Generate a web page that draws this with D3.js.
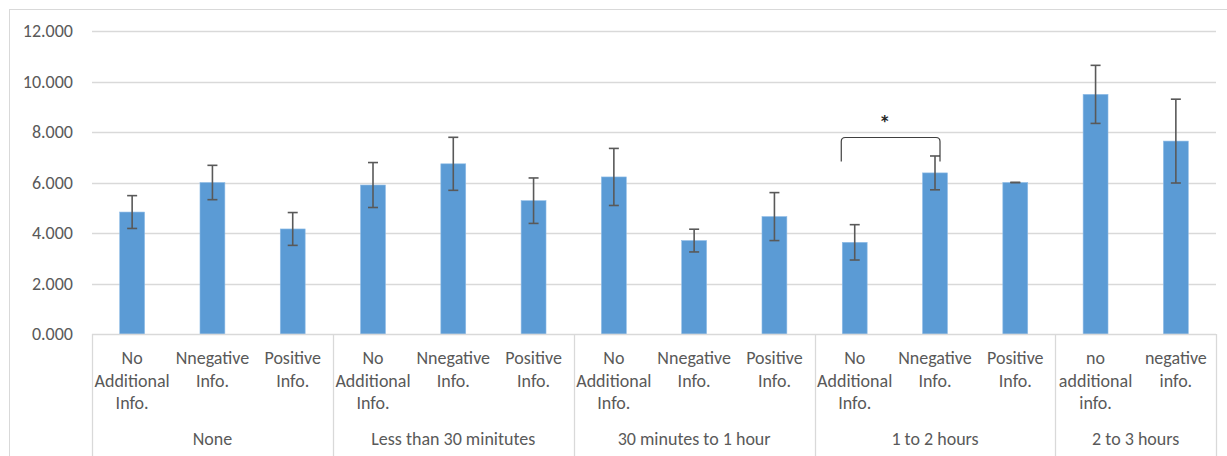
<!DOCTYPE html>
<html><head><meta charset="utf-8">
<script src="https://cdn.jsdelivr.net/npm/d3@7"></script>
<style>body{margin:0;background:#fff}svg{display:block}</style>
</head><body><svg id="c" width="1227" height="456"></svg>
<script>
const groups = ["None","Less than 30 minitutes","30 minutes to 1 hour","1 to 2 hours","2 to 3 hours"];
const groupCats = [
  ["No Additional Info.","Nnegative Info.","Positive Info."],
  ["No Additional Info.","Nnegative Info.","Positive Info."],
  ["No Additional Info.","Nnegative Info.","Positive Info."],
  ["No Additional Info.","Nnegative Info.","Positive Info."],
  ["no additional info.","negative info."]
];
const values = [4.83,6.00,4.16, 5.90,6.74,5.28, 6.22,3.70,4.65, 3.63,6.38,6.00, 9.49,7.64];
const errors = [0.65,0.68,0.65, 0.89,1.05,0.90, 1.13,0.45,0.95, 0.70,0.67,0.00, 1.15,1.66];
const yTicks = [0,2,4,6,8,10,12];
const sigPair = [9,10];
const sigLabel = "*";

const font = "Carlito, 'Open Sans', sans-serif";
const fs = "18px";
const txt = "#595959", grid = "#d9d9d9", barCol = "#5b9bd5";
const svg = d3.select("#c");
const L = 92, R = 1216, T = 31, B = 334;

svg.append("rect").attr("x",9.5).attr("y",9.5).attr("width",1240).attr("height",470)
  .attr("fill","none").attr("stroke",grid);

const items = [];
groupCats.forEach((cs,gi)=>cs.forEach((c,ci)=>items.push({g:gi,c:c,id:items.length})));
items.forEach((d,i)=>{d.v=values[i];d.e=errors[i];});

const x = d3.scaleBand().domain(items.map(d=>d.id)).range([L,R]).paddingInner(0.69).paddingOuter(0.345);
const y = d3.scaleLinear().domain([0,12]).range([B,T]);

// gridlines
svg.append("g").selectAll("line").data(yTicks.filter(t=>t>0)).join("line")
  .attr("x1",L).attr("x2",R).attr("y1",d=>Math.round(y(d))+0.5).attr("y2",d=>Math.round(y(d))+0.5)
  .attr("stroke",grid).attr("stroke-width",1.3);

// y axis labels
const yAxis = d3.axisLeft(y).tickValues(yTicks).tickFormat(d3.format(".3f")).tickSize(0).tickPadding(19);
const ya = svg.append("g").attr("transform",`translate(${L},0)`).call(yAxis);
ya.select(".domain").remove();
ya.selectAll("text").attr("fill",txt).style("font-family",font).style("font-size",fs);

// bars
svg.append("g").selectAll("rect").data(items).join("rect")
  .attr("x",d=>x(d.id)).attr("width",x.bandwidth())
  .attr("y",d=>y(d.v)).attr("height",d=>y(0)-y(d.v))
  .attr("fill",barCol).attr("stroke","#8fbce6").attr("stroke-width",0.6);

// error bars
const eb = svg.append("g").attr("stroke","#595959").attr("stroke-width",1.6);
items.forEach(d=>{
  const cx = x(d.id)+x.bandwidth()/2;
  eb.append("line").attr("x1",cx).attr("x2",cx).attr("y1",y(d.v+d.e)).attr("y2",y(d.v-d.e));
  [d.v+d.e,d.v-d.e].forEach(v=>eb.append("line").attr("x1",cx-5).attr("x2",cx+5).attr("y1",y(v)).attr("y2",y(v)));
});

// x axis line & group separators
const ax = svg.append("g").attr("stroke",grid).attr("stroke-width",1.3);
ax.append("line").attr("x1",L).attr("x2",R).attr("y1",B+0.5).attr("y2",B+0.5);
const bounds = [];
let k = 0;
groupCats.forEach((cs,gi)=>{bounds.push(k); k+=cs.length;});
bounds.push(k);
const step = x.step();
const bx = i => L + i*step;
bounds.forEach(b=>ax.append("line").attr("x1",Math.round(bx(b))+0.5).attr("x2",Math.round(bx(b))+0.5).attr("y1",B).attr("y2",456));

// category labels
const cl = svg.append("g").attr("fill",txt).style("font-family",font).style("font-size",fs).attr("text-anchor","middle");
items.forEach(d=>{
  const cx = x(d.id)+x.bandwidth()/2;
  const t = cl.append("text").attr("x",cx).attr("y",364);
  d.c.split(" ").forEach((w,i)=>t.append("tspan").attr("x",cx).attr("dy",i?22.5:0).text(w));
});
// group labels
groups.forEach((g,gi)=>{
  cl.append("text").attr("x",(bx(bounds[gi])+bx(bounds[gi+1]))/2).attr("y",445).text(g);
});

// significance bracket
const a = items[sigPair[0]], b = items[sigPair[1]];
const x1 = x(a.id)-1, x2 = x(b.id)+x.bandwidth()/2+5, yt = 137.5, yb = 161.5;
svg.append("path").attr("d",`M${x1},${yb} L${x1},${yt+4} Q${x1},${yt} ${x1+4},${yt} L${x2-4},${yt} Q${x2},${yt} ${x2},${yt+4} L${x2},${yb}`)
  .attr("fill","none").attr("stroke","#404040").attr("stroke-width",1.2);
svg.append("text").attr("x",(x1+x2)/2-6).attr("y",131).attr("text-anchor","middle")
  .style("font-family",font).style("font-size","23px").style("font-weight","bold").attr("fill","#262626").text(sigLabel);
</script></body></html>
